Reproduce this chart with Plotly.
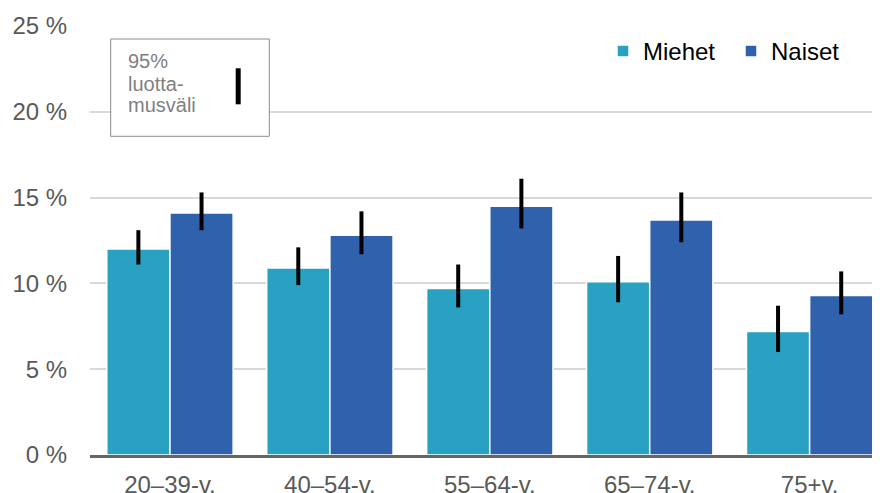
import plotly.graph_objects as go

categories = ["20–39-v.", "40–54-v.", "55–64-v.", "65–74-v.", "75+v."]
miehet = [12.0, 10.9, 9.7, 10.1, 7.2]
miehet_low = [11.1, 9.9, 8.6, 8.9, 6.0]
miehet_high = [13.1, 12.1, 11.1, 11.6, 8.7]
naiset = [14.1, 12.8, 14.5, 13.7, 9.3]
naiset_low = [13.1, 11.7, 13.2, 12.4, 8.2]
naiset_high = [15.3, 14.2, 16.1, 15.3, 10.7]
y_ticks = [0, 5, 10, 15, 20, 25]
y_ticklabels = ["0 %", "5 %", "10 %", "15 %", "20 %", "25 %"]

C_M = "#28A1C3"
C_N = "#2F61AD"
FONT = "Liberation Sans, Arial, sans-serif"

# page is offset 8px by the browser body margin; compensate in margins
OFF = 8
ML, MR, MT, MB = 90 - OFF, OFF, 26 - OFF, 38 + OFF


def err(vals, lo, hi):
    return dict(type="data", symmetric=False,
                array=[h - v for v, h in zip(vals, hi)],
                arrayminus=[v - l for v, l in zip(vals, lo)],
                color="#000000", thickness=4, width=0)


fig = go.Figure()
fig.add_trace(go.Bar(name="Miehet", x=categories, y=miehet,
                     marker=dict(color=C_M, line=dict(color="white", width=1.5)),
                     error_y=err(miehet, miehet_low, miehet_high)))
fig.add_trace(go.Bar(name="Naiset", x=categories, y=naiset,
                     marker=dict(color=C_N, line=dict(color="white", width=1.5)),
                     error_y=err(naiset, naiset_low, naiset_high)))

PLOT_H = 493 - MT - MB
PX_PER_UNIT = PLOT_H / 25.0


# helpers take reference (page) pixel coordinates
def ydat(px):
    return (493 - 38 - px) / PX_PER_UNIT


def xpap(px):
    return (px - 90) / 790.0


def ypap(px):
    return 1 - (px - 26) / PLOT_H


fig.update_layout(
    width=880, height=493,
    margin=dict(l=ML, r=MR, t=MT, b=MB, autoexpand=False),
    paper_bgcolor="white", plot_bgcolor="white",
    font=dict(family=FONT, size=24, color="#595959"),
    barmode="group", bargap=0.21, bargroupgap=0.0,
    showlegend=True,
    legend=dict(orientation="h", x=xpap(603), xanchor="left",
                y=ypap(29), yanchor="top", entrywidth=83,
                font=dict(family=FONT, size=24, color="#000000"),
                bgcolor="rgba(0,0,0,0)", traceorder="normal"),
    xaxis=dict(range=[-0.5, 4.44], showline=True, linecolor="#666666", linewidth=3,
               ticks="outside", ticklen=6, tickcolor="rgba(0,0,0,0)",
               tickfont=dict(family=FONT, size=24, color="#595959"),
               showgrid=False, automargin=False, fixedrange=True),
    yaxis=dict(range=[0, 25], tickvals=y_ticks, ticktext=y_ticklabels,
               showgrid=True, gridcolor="#D9D9D9", gridwidth=2,
               zeroline=False, showline=False,
               ticks="outside", ticklen=17, tickcolor="rgba(0,0,0,0)",
               tickfont=dict(family=FONT, size=24, color="#595959"),
               automargin=False, fixedrange=True),
)

# Confidence-interval key box
fig.add_shape(type="rect", xref="paper", yref="y",
              x0=xpap(110.7), x1=xpap(269.3), y0=ydat(136.3), y1=ydat(39),
              line=dict(color="#8C8C8C", width=1), fillcolor="white", layer="above")
fig.add_shape(type="line", xref="paper", yref="y",
              x0=xpap(238.2), x1=xpap(238.2), y0=ydat(104.3), y1=ydat(68.3),
              line=dict(color="#000000", width=5), layer="above")
for txt, ypx in [("95%", 60.7), ("luotta-", 83.5), ("musväli", 105.0)]:
    fig.add_annotation(text=txt, xref="paper", yref="y", x=xpap(126), y=ydat(ypx),
                       xanchor="left", yanchor="middle", showarrow=False,
                       font=dict(family=FONT, size=20, color="#808080"))

fig.write_html("out.html")
